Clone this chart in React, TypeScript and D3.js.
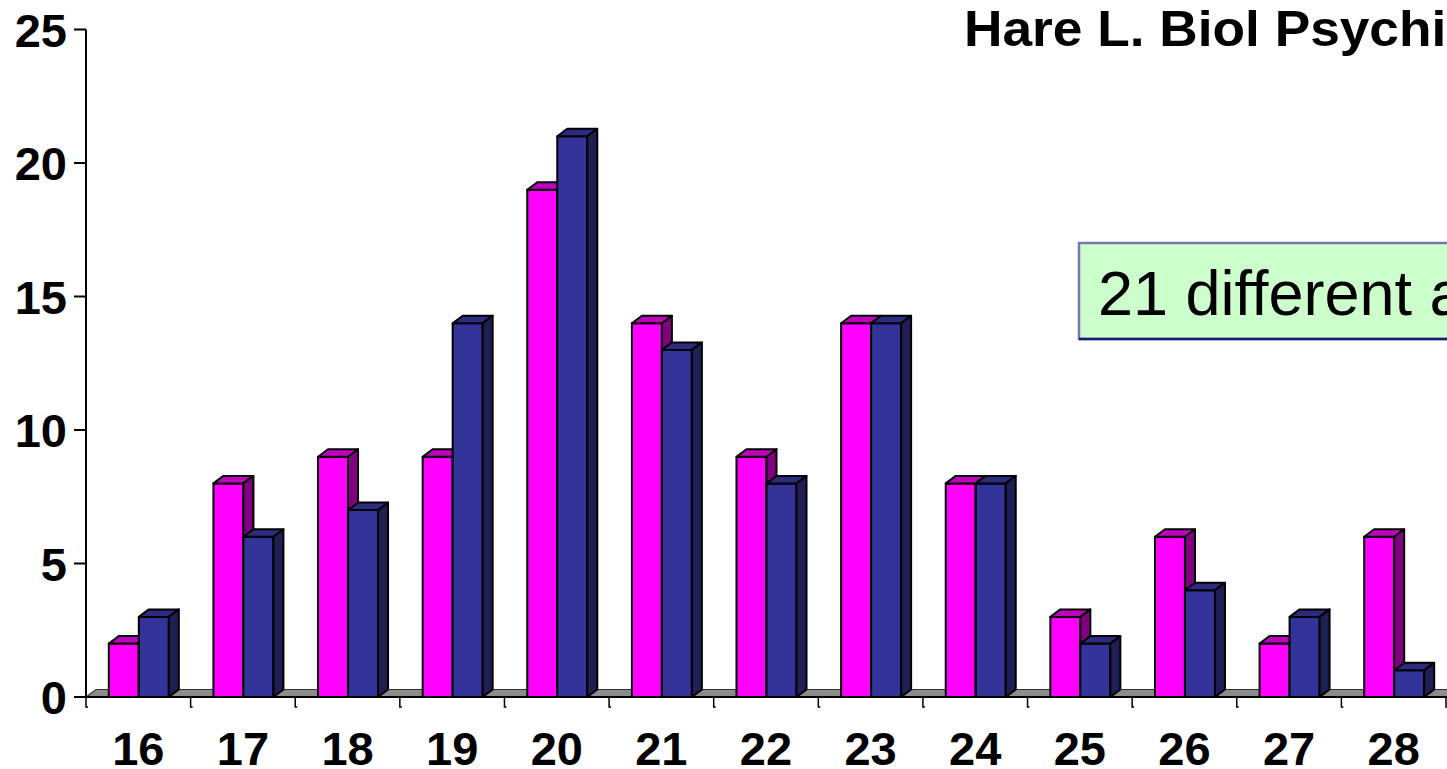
import React from "react";
import * as d3 from "d3";

// Age categories (years) and counts for the two groups
const categories = ["16", "17", "18", "19", "20", "21", "22", "23", "24", "25", "26", "27", "28"];
const pinkSeries = [2, 8, 9, 9, 19, 14, 9, 14, 8, 3, 6, 2, 6];
const blueSeries = [3, 6, 7, 14, 21, 13, 8, 14, 8, 2, 4, 3, 1];
const yTicks = [0, 5, 10, 15, 20, 25];
const titleText = "Hare L. Biol Psychiatry";
const noteText = "21 different alleles";

const W = 1447;
const H = 769;
const FONT = "'Liberation Sans', Arial, sans-serif";

// 3D depth offset of every box
const DX = 10;
const DY = -7.5;
const BAR_W = 30;

const x = d3.scaleBand<string>().domain(categories).range([86, 1446]).padding(0);
const y = d3.scaleLinear().domain([0, 25]).range([697, 29.5]);

const pinkColors = { front: "#FF00FF", top: "#C000C0", side: "#800080" };
const blueColors = { front: "#333399", top: "#2B2B80", side: "#1F1F55" };

function box(x0: number, v: number, c: { front: string; top: string; side: string }, key: string) {
  const y0 = y(0);
  const y1 = y(v);
  const x1 = x0 + BAR_W;
  const line = d3.line();
  const front = line([[x0, y1], [x1, y1], [x1, y0], [x0, y0]]) + "Z";
  const top = line([[x0, y1], [x0 + DX, y1 + DY], [x1 + DX, y1 + DY], [x1, y1]]) + "Z";
  const side = line([[x1, y1], [x1 + DX, y1 + DY], [x1 + DX, y0 + DY], [x1, y0]]) + "Z";
  const common = { stroke: "#000", strokeWidth: 2, strokeLinejoin: "round" as const };
  return (
    <g key={key}>
      <path d={front} fill={c.front} {...common} />
      <path d={top} fill={c.top} {...common} />
      <path d={side} fill={c.side} {...common} />
    </g>
  );
}

export default function App() {
  const y0 = y(0);
  const floorRight = 1470;
  const floor = d3.line()([
    [x.range()[0], y0],
    [x.range()[0] + DX, y0 + DY],
    [floorRight + DX, y0 + DY],
    [floorRight, y0],
  ]) + "Z";

  return (
    <svg
      width={W}
      height={H}
      viewBox={`0 0 ${W} ${H}`}
      style={{ position: "absolute", left: 0, top: 0, background: "#fff" }}
    >
      {/* floor */}
      <path d={floor} fill="#8C8C8C" stroke="#333" strokeWidth={1.2} />
      <line x1={x.range()[0]} x2={floorRight} y1={y0} y2={y0} stroke="#000" strokeWidth={2} />

      {/* value axis */}
      <line x1={86} x2={86} y1={y(25)} y2={y0} stroke="#000" strokeWidth={2} />
      {yTicks.map((t) => (
        <g key={t}>
          <line x1={74} x2={86} y1={y(t)} y2={y(t)} stroke="#000" strokeWidth={2} />
          <text
            x={67}
            y={y(t) + 17}
            textAnchor="end"
            fontFamily={FONT}
            fontWeight="bold"
            fontSize={47}
            fill="#000"
          >
            {t}
          </text>
        </g>
      ))}

      {/* category axis ticks */}
      {categories.concat(["end"]).map((c, i) => {
        const tx = x.range()[0] + i * x.bandwidth();
        return (
          <path
            key={"t" + i}
            d={`M${tx},${y0} V${y0 + 10} H${tx + 2}`}
            fill="none"
            stroke="#000"
            strokeWidth={1.5}
          />
        );
      })}

      {/* bars */}
      {categories.map((c, i) => {
        const cx = (x(c) as number) + x.bandwidth() / 2 + 0.5;
        return (
          <g key={c}>
            {box(cx - BAR_W, pinkSeries[i], pinkColors, "p")}
            {box(cx, blueSeries[i], blueColors, "b")}
          </g>
        );
      })}

      {/* category labels */}
      {categories.map((c) => (
        <text
          key={"l" + c}
          x={(x(c) as number) + x.bandwidth() / 2}
          y={765}
          textAnchor="middle"
          fontFamily={FONT}
          fontWeight="bold"
          fontSize={47}
          fill="#000"
        >
          {c}
        </text>
      ))}

      {/* title */}
      <text
        transform="translate(964,46) scale(1.065,1)"
        fontFamily={FONT}
        fontWeight="bold"
        fontSize={50}
        fill="#000"
      >
        {titleText}
      </text>

      {/* note box */}
      <rect x={1079} y={243} width={420} height={96} fill="#CCFFCC" stroke="#7777AA" strokeWidth={2.5} />
      <line x1={1079} x2={1499} y1={339} y2={339} stroke="#1A1A70" strokeWidth={2.5} />
      <text x={1098} y={315} fontFamily={FONT} fontSize={63} fill="#000">
        {noteText}
      </text>
    </svg>
  );
}
